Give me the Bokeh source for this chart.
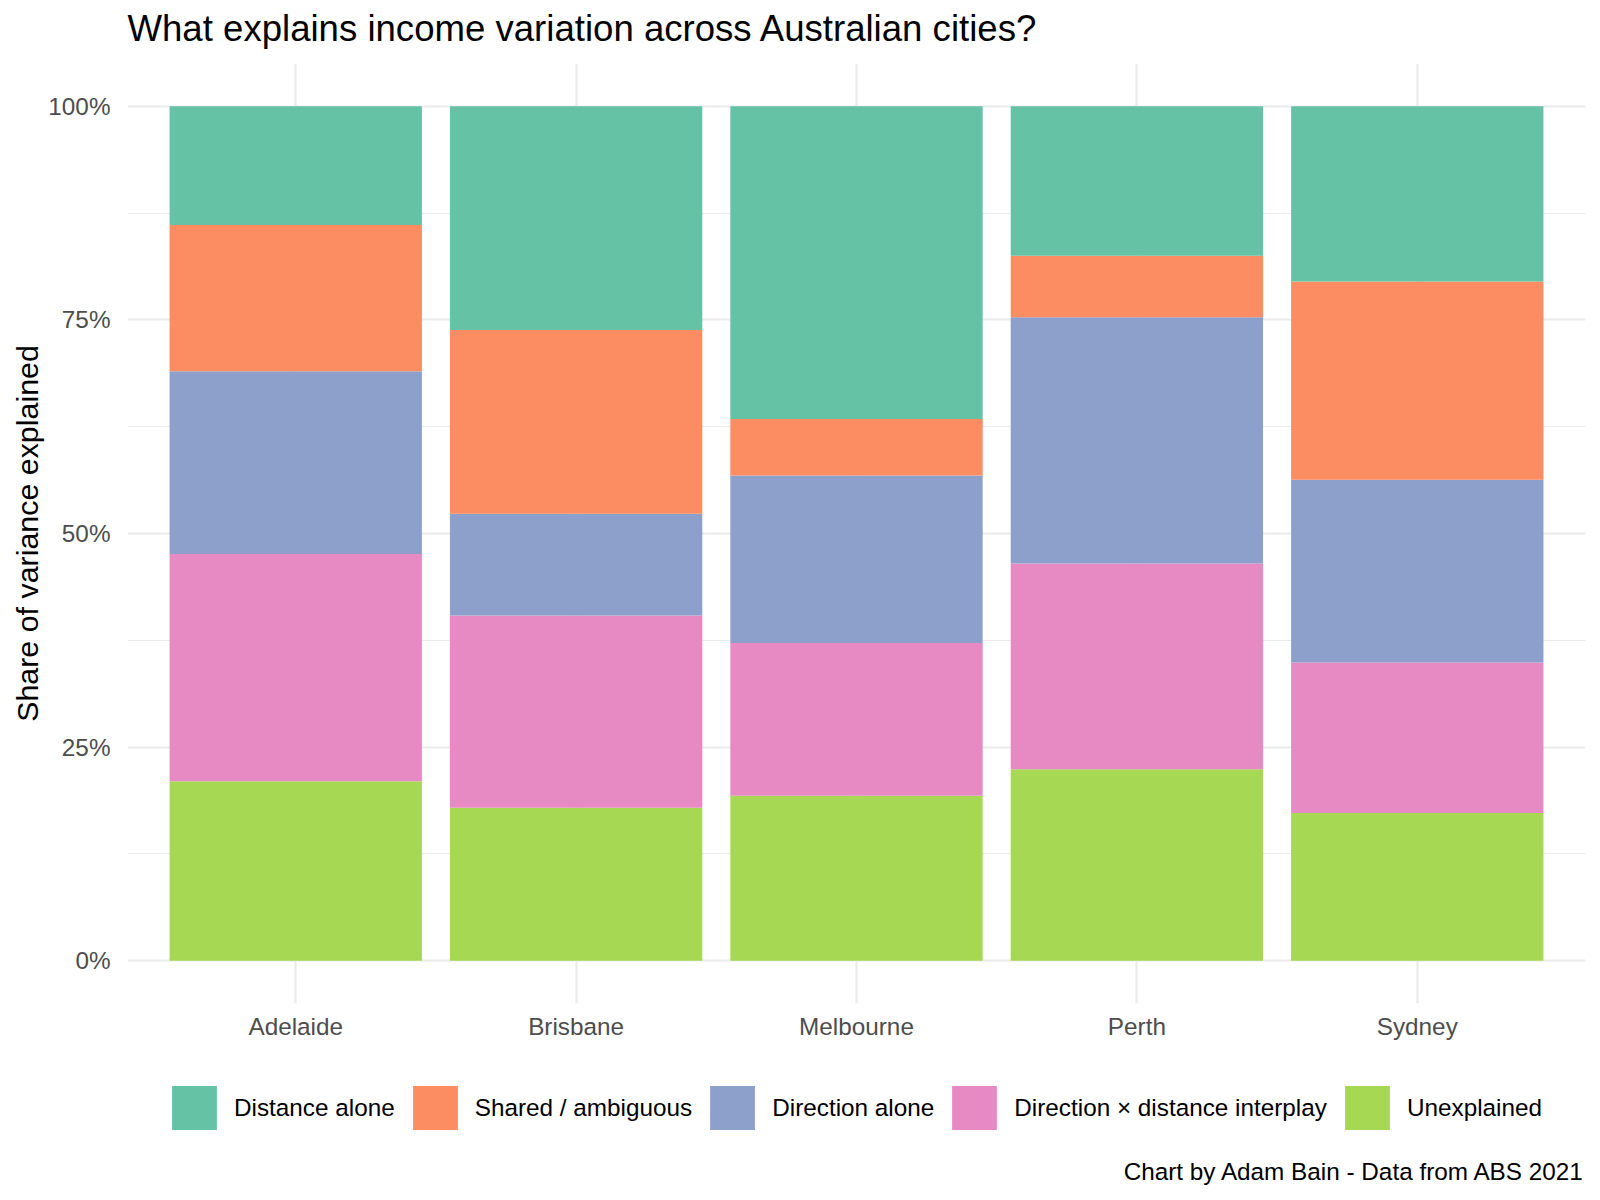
from bokeh.plotting import figure
from bokeh.layouts import column
from bokeh.models import (FactorRange, Range1d, FixedTicker, NumeralTickFormatter,
                          Legend, LegendItem, Title, Label)
from bokeh.embed import file_html
from bokeh.resources import INLINE

cities = ["Adelaide", "Brisbane", "Melbourne", "Perth", "Sydney"]
components = ["Unexplained", "Direction × distance interplay", "Direction alone",
              "Shared / ambiguous", "Distance alone"]
# shares (fraction of variance), stacked bottom -> top
unexplained = [0.210, 0.179, 0.193, 0.224, 0.173]
interplay   = [0.266, 0.225, 0.179, 0.241, 0.176]
direction   = [0.214, 0.119, 0.196, 0.288, 0.214]
shared      = [0.171, 0.215, 0.066, 0.072, 0.232]
distance    = [0.139, 0.262, 0.366, 0.175, 0.205]
colors = ["#A6D854", "#E78AC3", "#8DA0CB", "#FC8D62", "#66C2A5"]
y_ticks = [0, 0.25, 0.5, 0.75, 1.0]
y_minor = [0.125, 0.375, 0.625, 0.875]

FONT = "Liberation Sans"
SMALL = "24.3px"
keys = ["u", "i", "d", "s", "t"]
data = dict(city=cities, u=unexplained, i=interplay, d=direction, s=shared, t=distance)

BORDER_L, BORDER_R = 127, 15

# ---------------- main chart ----------------
p = figure(width=1600, height=1045, x_range=FactorRange(factors=cities, range_padding=0.04,
           range_padding_units="percent"), y_range=Range1d(-0.05, 1.05),
           output_backend="svg", toolbar_location=None,
           min_border_left=BORDER_L, min_border_right=BORDER_R, min_border_top=63,
           min_border_bottom=42)

renderers = p.vbar_stack(keys, x="city", width=0.9, color=colors, line_color=None, source=data)

# spacer between frame and title (nearest the frame)
spacer = Title(text=" ", text_font=FONT, text_font_size="8px", standoff=4)
p.add_layout(spacer, "above")

p.title.text = "What explains income variation across Australian cities?"
p.title.text_font = FONT
p.title.text_font_size = "36.6px"
p.title.text_font_style = "normal"
p.title.text_color = "black"
p.title.align = "left"
p.title.standoff = 0
p.title.offset = 0

p.outline_line_color = None
p.background_fill_color = "white"
p.border_fill_color = "white"

p.yaxis.ticker = FixedTicker(ticks=y_ticks, minor_ticks=y_minor)
p.yaxis.formatter = NumeralTickFormatter(format="0%")
for ax in (p.xaxis, p.yaxis):
    ax.axis_line_color = None
    ax.major_tick_line_color = None
    ax.minor_tick_line_color = None
    ax.major_tick_out = 0
    ax.major_tick_in = 0
    ax.minor_tick_out = 0
    ax.minor_tick_in = 0
    ax.major_label_text_font = FONT
    ax.major_label_text_font_size = SMALL
    ax.major_label_text_color = "#4D4D4D"
p.yaxis.major_label_standoff = 17
p.xaxis.major_label_standoff = 9
p.yaxis.axis_label = "Share of variance explained"
p.yaxis.axis_label_text_font = FONT
p.yaxis.axis_label_text_font_size = "30.4px"
p.yaxis.axis_label_text_font_style = "normal"
p.yaxis.axis_label_text_color = "black"
p.yaxis.axis_label_standoff = 1

p.xgrid.grid_line_color = "#EBEBEB"
p.xgrid.grid_line_width = 2.2
p.ygrid.grid_line_color = "#EBEBEB"
p.ygrid.grid_line_width = 2.2
p.ygrid.minor_grid_line_color = "#EBEBEB"
p.ygrid.minor_grid_line_width = 1.1

# ---------------- legend + caption strip (frame aligned with the chart) ----------------
q = figure(width=1600, height=155, x_range=Range1d(0, 1), y_range=Range1d(0, 1),
           x_axis_type=None, y_axis_type=None, output_backend="svg", toolbar_location=None,
           min_border_left=BORDER_L, min_border_right=BORDER_R, min_border_top=0,
           min_border_bottom=0)
q.outline_line_color = None
q.background_fill_color = "white"
q.border_fill_color = "white"

# zero-size stand-in glyphs that only carry the legend colours
legend_renderers = {}
for name, col in zip(components, colors):
    legend_renderers[name] = q.vbar(x=[0], top=[0], bottom=[0], width=0,
                                    fill_color=col, line_color=None)

# legend order as in reference (top of stack first)
order = [components[k] for k in [4, 3, 2, 1, 0]]
items = [LegendItem(label=n, renderers=[legend_renderers[n]]) for n in order]
legend = Legend(items=items, orientation="horizontal", location=(39, 65),
                glyph_width=56, glyph_height=55, label_standoff=12, spacing=12,
                padding=0, margin=0, border_line_color=None, background_fill_alpha=0,
                label_text_font=FONT, label_text_font_size=SMALL, label_text_color="black")
q.add_layout(legend, "center")

caption = Label(x=1458, y=29.4, x_units="screen", y_units="screen",
                text="Chart by Adam Bain - Data from ABS 2021", text_align="right",
                text_baseline="alphabetic", text_font=FONT, text_font_size=SMALL,
                text_color="black")
q.add_layout(caption)

layout = column(p, q, spacing=0)
open("out.html", "w").write(file_html(layout, INLINE))
